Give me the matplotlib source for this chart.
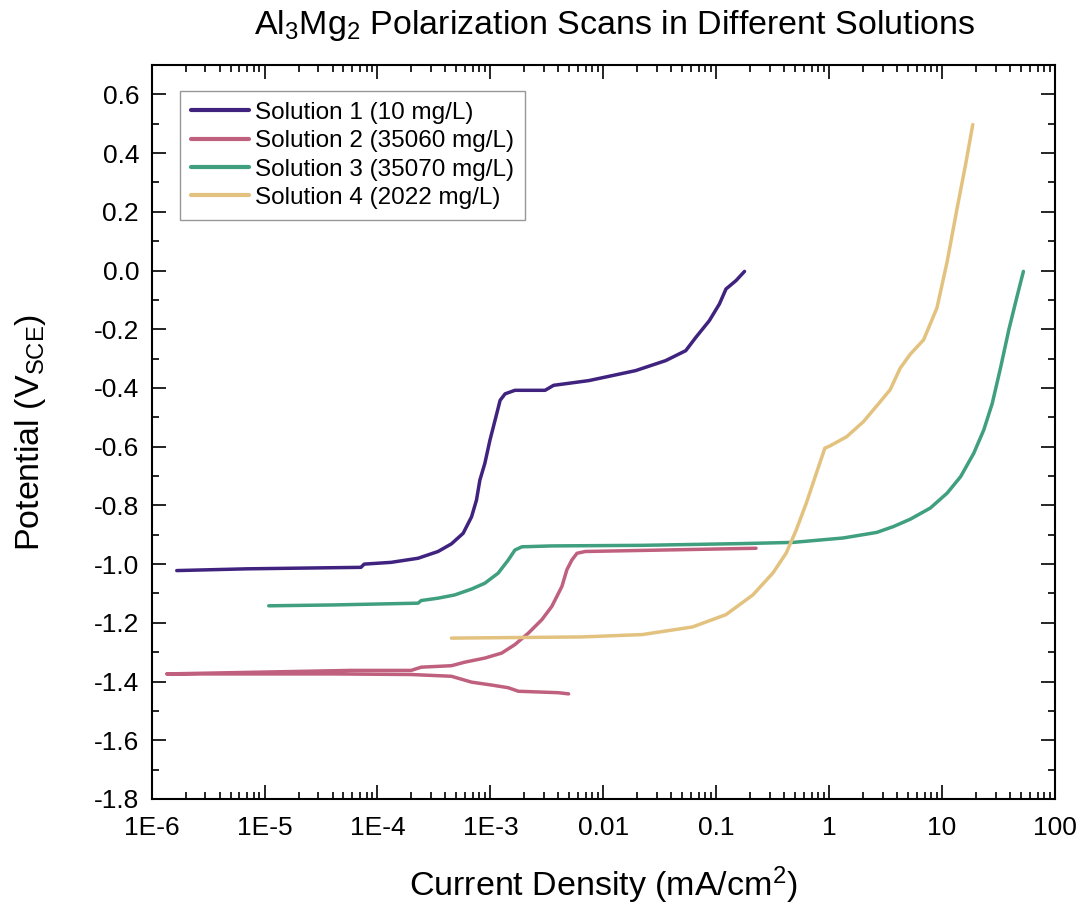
import matplotlib
matplotlib.use("Agg")
import matplotlib.pyplot as plt
from matplotlib.ticker import LogLocator, MultipleLocator, FixedLocator, FixedFormatter, NullFormatter, FormatStrFormatter

plt.rcParams['font.family'] = ['Liberation Sans', 'DejaVu Sans']
plt.rcParams['mathtext.fontset'] = 'custom'
plt.rcParams['mathtext.rm'] = 'Liberation Sans'
plt.rcParams['mathtext.it'] = 'Liberation Sans'
plt.rcParams['mathtext.default'] = 'regular'
plt.rcParams['axes.unicode_minus'] = False

# ---------------- data ----------------
sol1_i = [1.67e-6, 7.0e-6, 7.14e-5, 7.63e-5, 1.32e-4, 2.29e-4, 3.44e-4, 4.52e-4, 5.74e-4,
          6.81e-4, 7.53e-4, 8.07e-4, 8.93e-4, 9.91e-4, 1.10e-3, 1.22e-3, 1.35e-3, 1.65e-3,
          3.05e-3, 3.63e-3, 7.43e-3, 0.0193, 0.0356, 0.0537, 0.0659, 0.0868, 0.1067,
          0.122, 0.150, 0.178]
sol1_e = [-1.022, -1.016, -1.011, -1.000, -0.994, -0.980, -0.957, -0.931, -0.895,
          -0.839, -0.782, -0.714, -0.657, -0.578, -0.510, -0.442, -0.420, -0.408,
          -0.408, -0.391, -0.375, -0.341, -0.307, -0.273, -0.228, -0.171, -0.114,
          -0.063, -0.034, -0.003]

sol2_i = [4.93e-3, 4.02e-3, 1.77e-3, 1.44e-3, 1.03e-3, 6.81e-4, 4.52e-4, 1.99e-4, 4.14e-5,
          1.36e-6,
          5.82e-5, 1.99e-4, 2.44e-4, 4.52e-4, 5.93e-4, 8.93e-4, 1.26e-3, 1.65e-3, 2.17e-3,
          2.86e-3, 3.50e-3, 4.30e-3, 4.76e-3, 5.27e-3, 5.85e-3, 6.93e-3, 0.0180, 0.225]
sol2_e = [-1.442, -1.438, -1.433, -1.421, -1.412, -1.402, -1.382, -1.376, -1.374,
          -1.374,
          -1.362, -1.362, -1.351, -1.346, -1.334, -1.320, -1.303, -1.274, -1.235,
          -1.189, -1.144, -1.076, -1.019, -0.986, -0.963, -0.957, -0.954, -0.946]

sol3_i = [1.09e-5, 4.14e-5, 2.29e-4, 2.44e-4, 3.44e-4, 4.83e-4, 6.81e-4, 8.93e-4, 1.17e-3,
          1.44e-3, 1.65e-3, 1.90e-3, 3.50e-3, 0.0221, 0.172, 0.479, 1.33, 2.64, 3.71,
          5.23, 7.87, 11.1, 14.6, 19.1, 23.4, 27.8, 33.0, 39.1, 46.0, 52.5]
sol3_e = [-1.142, -1.139, -1.133, -1.124, -1.116, -1.105, -1.085, -1.065, -1.031,
          -0.986, -0.952, -0.941, -0.938, -0.936, -0.930, -0.926, -0.911, -0.892, -0.872,
          -0.847, -0.809, -0.758, -0.702, -0.622, -0.543, -0.453, -0.330, -0.200, -0.090,
          -0.003]

sol4_i = [4.52e-4, 6.47e-3, 0.0221, 0.0617, 0.122, 0.211, 0.318, 0.417, 0.512, 0.628,
          0.771, 0.916, 1.01, 1.43, 2.01, 2.83, 3.47, 4.25, 5.23, 6.86, 9.01, 11.1, 13.6,
          16.1, 18.7]
sol4_e = [-1.252, -1.248, -1.240, -1.214, -1.172, -1.105, -1.030, -0.962, -0.883, -0.792,
          -0.690, -0.605, -0.598, -0.566, -0.515, -0.447, -0.406, -0.333, -0.285, -0.236,
          -0.127, 0.031, 0.213, 0.358, 0.497]

labels = ["Solution 1 (10 mg/L)", "Solution 2 (35060 mg/L)",
          "Solution 3 (35070 mg/L)", "Solution 4 (2022 mg/L)"]
colors = ["#40237f", "#c0607f", "#3f9f7f", "#e3c27f"]

x_ticks = [1e-6, 1e-5, 1e-4, 1e-3, 1e-2, 1e-1, 1, 10, 100]
x_ticklabels = ["1E-6", "1E-5", "1E-4", "1E-3", "0.01", "0.1", "1", "10", "100"]

# ---------------- figure ----------------
fig = plt.figure(figsize=(10.83, 9.11), dpi=100)
ax = fig.add_axes([151.6 / 1083, 1 - 799 / 911, (1055 - 151.6) / 1083, (799 - 65) / 911])

series = [(sol1_i, sol1_e), (sol2_i, sol2_e), (sol3_i, sol3_e), (sol4_i, sol4_e)]
for (xi, ye), lab, c in zip(series, labels, colors):
    ax.plot(xi, ye, color=c, lw=2.5, label=lab, solid_capstyle='round', solid_joinstyle='round')

ax.set_xscale('log')
ax.set_xlim(1e-6, 100)
ax.set_ylim(-1.8, 0.7)

ax.xaxis.set_major_locator(FixedLocator(x_ticks))
ax.xaxis.set_major_formatter(FixedFormatter(x_ticklabels))
ax.xaxis.set_minor_locator(LogLocator(base=10, subs=range(2, 10), numticks=20))
ax.xaxis.set_minor_formatter(NullFormatter())

ax.yaxis.set_major_locator(MultipleLocator(0.2))
ax.yaxis.set_minor_locator(MultipleLocator(0.1))
ax.yaxis.set_major_formatter(FormatStrFormatter('%.1f'))

ax.tick_params(which='both', direction='in', top=True, right=True, width=1.2, color='black')
ax.tick_params(which='major', length=10, labelsize=19)
ax.tick_params(axis='x', which='major', pad=12)
ax.tick_params(axis='y', which='major', pad=9)
ax.tick_params(which='minor', length=5)
for s in ax.spines.values():
    s.set_linewidth(1.5)

ax.set_xlabel("Current Density (mA/cm$^2$)", fontsize=24.5, labelpad=18)
ax.set_ylabel("Potential (V$_{SCE}$)", fontsize=24.5, labelpad=33)
ax.set_title("Al$_3$Mg$_2$ Polarization Scans in Different Solutions", fontsize=24.5,
             pad=22, x=0.513)

leg = ax.legend(loc='upper left', bbox_to_anchor=(0.0314, 0.9646), borderaxespad=0,
                fontsize=17.5, frameon=True, fancybox=False, edgecolor='#7f7f7f',
                handlelength=2.4, handletextpad=0.25, labelspacing=0.26, borderpad=0.45)
leg.get_frame().set_linewidth(1.0)
for l in leg.get_lines():
    l.set_linewidth(3)

fig.savefig("out.png", dpi=100)
